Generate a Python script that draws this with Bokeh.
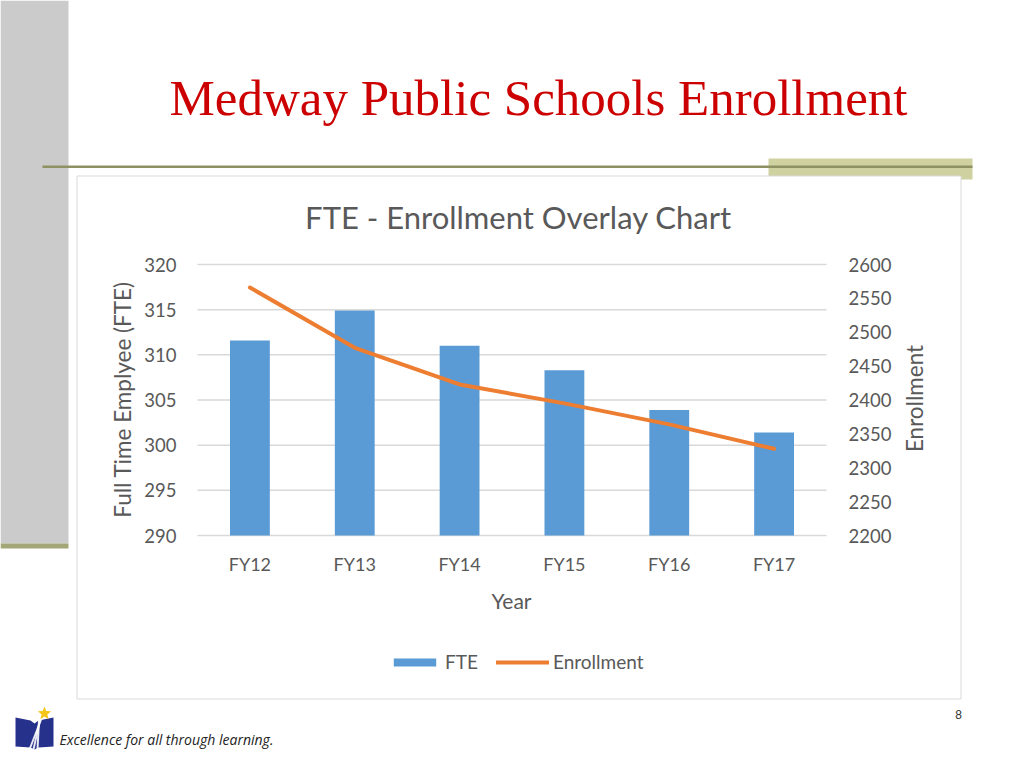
import math
from bokeh.plotting import figure
from bokeh.models import Range1d, Legend, LegendItem
from bokeh.core.properties import value
from bokeh.embed import file_html
from bokeh.resources import INLINE

# ---- data ----
years = ["FY12", "FY13", "FY14", "FY15", "FY16", "FY17"]
fte = [311.6, 314.9, 311.0, 308.3, 303.9, 301.4]
enrollment = [2566, 2477, 2423, 2395, 2364, 2328]
fte_ticks = [290, 295, 300, 305, 310, 315, 320]
enr_ticks = [2200, 2250, 2300, 2350, 2400, 2450, 2500, 2550, 2600]

slide_title = "Medway Public Schools Enrollment"
chart_title = "FTE - Enrollment Overlay Chart"
y_label = "Full Time Emplyee (FTE)"
y2_label = "Enrollment"
x_label = "Year"
tagline = "Excellence for all through learning."
page_no = "8"

# ---- layout constants (page pixels) ----
W, H = 1008, 752
PL, PR, PT, PB = 197, 826, 264, 535   # plot area
FONT = "Lato"
TXT = "#595959"
BORDER = "#d9d9d9"
GRAY = "#cbcbcb"
OLIVE_D = "#8e9262"
OLIVE_L = "#cfd1a1"
OLIVE_S = "#a3a677"


def Y(py):
    return H - py


n = len(years)
idx = list(range(n))
cat_w = (PR - PL) / n
x_start = -0.5 - PL / cat_w
fte_lo, fte_hi = fte_ticks[0], fte_ticks[-1]
enr_lo, enr_hi = enr_ticks[0], enr_ticks[-1]
fte_per_px = (fte_hi - fte_lo) / (PB - PT)
enr_per_px = (enr_hi - enr_lo) / (PB - PT)
fte_start = fte_lo - (H - PB) * fte_per_px
enr_start = enr_lo - (H - PB) * enr_per_px

p = figure(width=W, height=H, x_range=Range1d(0, W), y_range=Range1d(0, H),
           output_backend="svg", toolbar_location=None, min_border=0,
           x_axis_type=None, y_axis_type=None, outline_line_color=None,
           background_fill_color="white", border_fill_color="white")
p.extra_x_ranges = {"cat": Range1d(x_start, x_start + W / cat_w)}
p.extra_y_ranges = {"fte": Range1d(fte_start, fte_start + H * fte_per_px),
                    "enr": Range1d(enr_start, enr_start + H * enr_per_px)}

# ---- slide decorations ----
def box(l, r, t, b, color, line=None):
    p.quad(left=[l], right=[r], top=[Y(t)], bottom=[Y(b)], fill_color=color,
           line_color=line, line_width=1)

box(0, 68, 0, 543, GRAY)
box(0, 68, 543, 548, OLIVE_S)
box(768, 972, 158, 179, OLIVE_L)
box(42, 972, 165, 167.5, OLIVE_D)
box(76.5, 960.5, 175.5, 698.5, "white", line=BORDER)

p.text(x=[538], y=[Y(97)], text=[slide_title], text_font=value("Liberation Serif"),
       text_font_size=value("51px"), text_color="#cc0000", text_align="center",
       text_baseline="middle")
p.text(x=[958], y=[Y(714)], text=[page_no], text_font=value("Liberation Sans"),
       text_font_size=value("12px"), text_color="#333333", text_align="center",
       text_baseline="middle")
p.text(x=[59], y=[Y(739)], text=[tagline], text_font=value("Open Sans"), text_font_style="italic",
       text_font_size=value("14px"), text_color="#222222", text_align="left",
       text_baseline="middle")

# logo: book, swoosh, star
book_x = [15, 30, 34, 38, 53, 53, 38, 34, 30, 15]
book_y = [717, 720, 723, 720, 717, 746, 747, 749, 747, 746]
p.patch(x=book_x, y=[Y(v) for v in book_y], fill_color="#26318c", line_color=None)
for dx in (0, 4, 8):
    p.patch(x=[40 - dx * 0.3, 42 - dx * 0.3, 30 + dx, 28 + dx], y=[Y(718), Y(718), Y(749), Y(749)],
            fill_color="white", fill_alpha=0.9, line_color=None)
star_x, star_y = [], []
for k in range(10):
    r = 7 if k % 2 == 0 else 3
    a = math.pi / 2 + k * math.pi / 5
    star_x.append(44 + r * math.cos(a))
    star_y.append(Y(713) + r * math.sin(a))
p.patch(x=star_x, y=star_y, fill_color="#f5c518", line_color=None)

# ---- chart ----
p.text(x=[518], y=[Y(216)], text=[chart_title], text_font=value(FONT), text_font_size=value("31px"),
       text_color=TXT, text_align="center", text_baseline="middle")

# grid lines on the FTE scale
p.segment(x0=[-0.5] * len(fte_ticks), x1=[n - 0.5] * len(fte_ticks), y0=fte_ticks, y1=fte_ticks,
          x_range_name="cat", y_range_name="fte", line_color=BORDER, line_width=1.5)

bars = p.vbar(x=idx, top=fte, bottom=fte_lo, width=0.38, x_range_name="cat", y_range_name="fte",
              fill_color="#5b9bd5", line_color=None)
ln = p.line(x=idx, y=enrollment, x_range_name="cat", y_range_name="enr", line_color="#ed7d31",
            line_width=4, line_cap="round", line_join="round")

# axis tick labels
p.text(x=[PL - 21] * len(fte_ticks), y=fte_ticks, text=[str(t) for t in fte_ticks], y_range_name="fte",
       text_font=value(FONT), text_font_size=value("18.5px"), text_color=TXT,
       text_align="right", text_baseline="middle")
p.text(x=[PR + 22] * len(enr_ticks), y=enr_ticks, text=[str(t) for t in enr_ticks], y_range_name="enr",
       text_font=value(FONT), text_font_size=value("18.5px"), text_color=TXT,
       text_align="left", text_baseline="middle")
p.text(x=idx, y=[Y(563)] * n, text=years, x_range_name="cat",
       text_font=value(FONT), text_font_size=value("18px"), text_color=TXT,
       text_align="center", text_baseline="middle")

# axis titles
p.text(x=[122], y=[Y(399)], text=[y_label], angle=math.pi / 2, text_font=value(FONT),
       text_font_size=value("22.5px"), text_color=TXT, text_align="center", text_baseline="middle")
p.text(x=[914], y=[Y(398)], text=[y2_label], angle=math.pi / 2, text_font=value(FONT),
       text_font_size=value("22.5px"), text_color=TXT, text_align="center", text_baseline="middle")
p.text(x=[511], y=[Y(600)], text=[x_label], text_font=value(FONT),
       text_font_size=value("21px"), text_color=TXT, text_align="center", text_baseline="middle")

legend = Legend(items=[LegendItem(label="FTE", renderers=[bars]),
                       LegendItem(label="Enrollment", renderers=[ln])],
                orientation="horizontal", location=(388, H - 673),
                glyph_width=53, glyph_height=10, label_standoff=4, spacing=18,
                padding=0, margin=0, border_line_color=None, background_fill_alpha=0,
                label_text_font=FONT, label_text_font_size="19px", label_text_color=TXT)
p.add_layout(legend)

open("out.html", "w").write(file_html(p, INLINE))
